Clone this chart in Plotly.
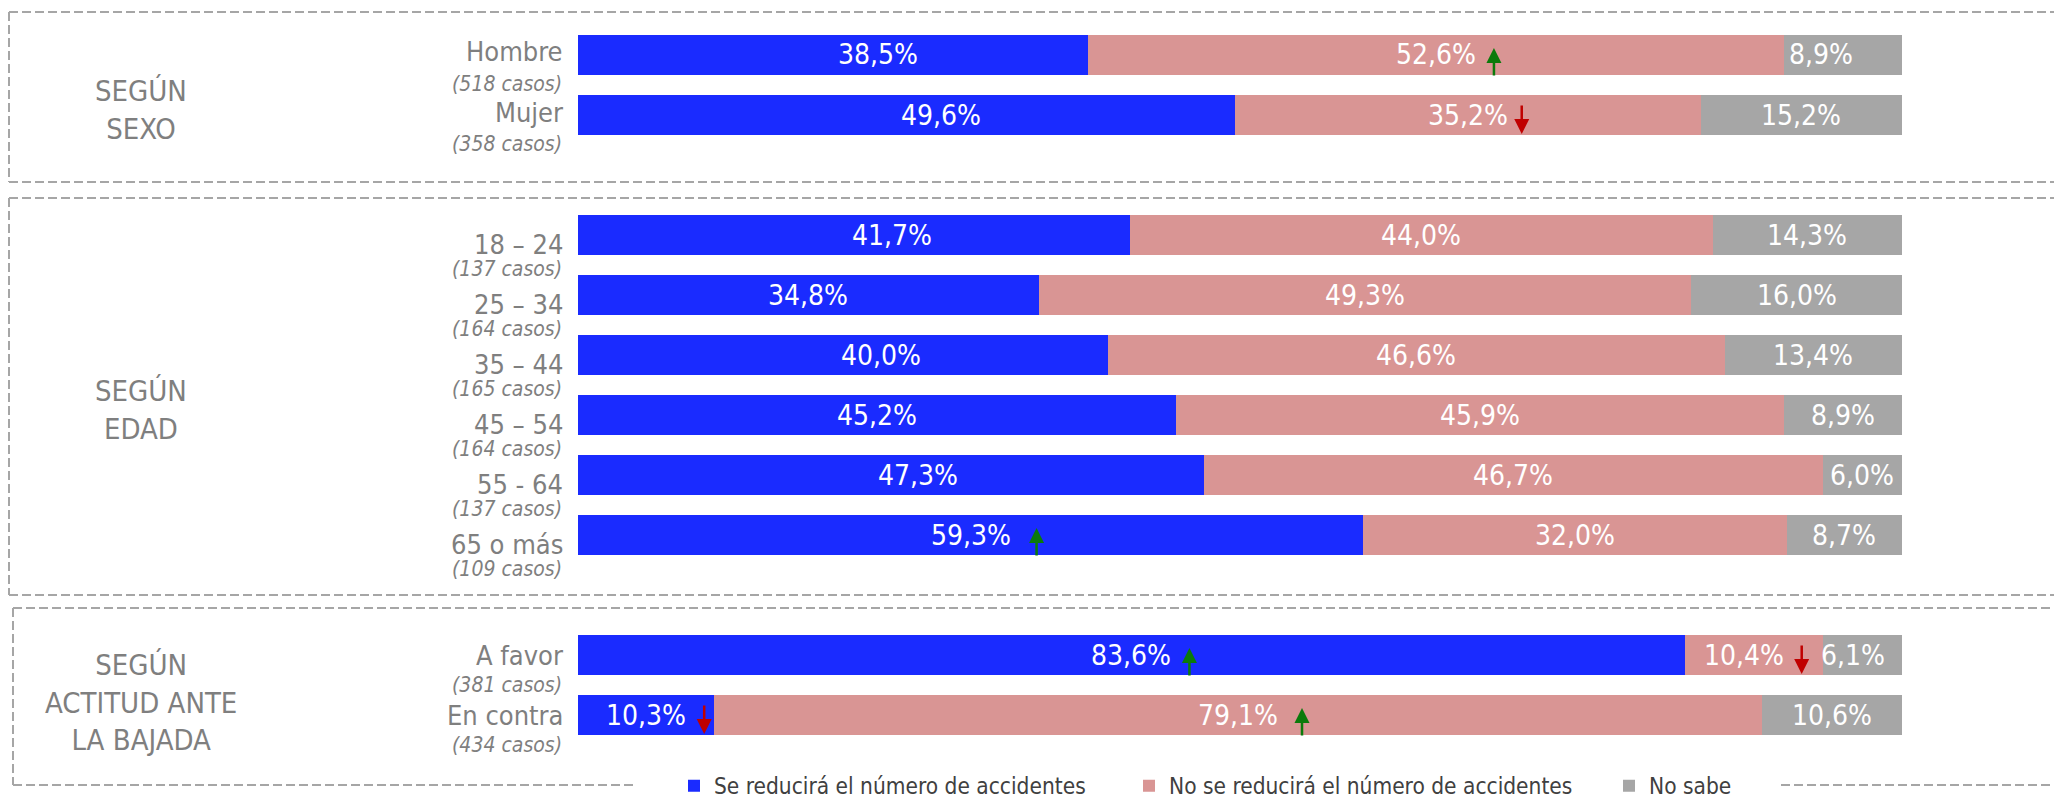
import plotly.graph_objects as go

# ---------------- data ----------------
categories = ["Hombre", "Mujer", "18 – 24", "25 – 34", "35 – 44", "45 – 54",
              "55 - 64", "65 o más", "A favor", "En contra"]
casos = [518, 358, 137, 164, 165, 164, 137, 109, 381, 434]
group_index = [0, 0, 1, 1, 1, 1, 1, 1, 2, 2]
group_titles = ["SEGÚN<br>SEXO", "SEGÚN<br>EDAD", "SEGÚN<br>ACTITUD ANTE<br>LA BAJADA"]

reducira = [38.5, 49.6, 41.7, 34.8, 40.0, 45.2, 47.3, 59.3, 83.6, 10.3]
no_reducira = [52.6, 35.2, 44.0, 49.3, 46.6, 45.9, 46.7, 32.0, 10.4, 79.1]
no_sabe = [8.9, 15.2, 14.3, 16.0, 13.4, 8.9, 6.0, 8.7, 6.1, 10.6]

series_names = ["Se reducirá el número de accidentes",
                "No se reducirá el número de accidentes",
                "No sabe"]
series_values = [reducira, no_reducira, no_sabe]

# significance arrows: (category, series index, direction)
arrow_marks = [("Hombre", 1, "up"), ("Mujer", 1, "down"), ("65 o más", 0, "up"),
               ("A favor", 0, "up"), ("A favor", 1, "down"),
               ("En contra", 0, "down"), ("En contra", 1, "up")]

# ---------------- style ----------------
FONT = "Liberation Sans Narrow, Arial Narrow, DejaVu Sans Condensed, sans-serif"
colors = ["#1A2BFF", "#D99594", "#A6A6A6"]
label_grey = "#7F7F7F"
dash_grey = "#A6A6A6"

# page is 2062x800; the html body has an 8px margin
PAGE_W, PAGE_H, OFF = 2062, 800, 8
W, H = PAGE_W - 2 * OFF, PAGE_H
PL, PR, PT, PB = 578, 1902, 25, 745   # plot area, page pixels

# manual nudges of a few value labels (pixels), as in the original layout
label_nudge = {("Hombre", 0): 45, ("Mujer", 0): 35, ("18 – 24", 0): 38,
               ("35 – 44", 0): 38, ("55 - 64", 0): 27,
               ("Hombre", 2): -22, ("A favor", 2): -10, ("A favor", 1): -10}
arrow_shift = {("Mujer", 1): -4, ("65 o más", 0): 8, ("En contra", 1): 6}

# slot positions (one empty slot between groups)
slots = []
s, prev = 0, group_index[0]
for g in group_index:
    if g != prev:
        s += 1
        prev = g
    slots.append(s)
    s += 1
nslots = slots[-1] + 1


def slot_px(sl):
    return PT + (sl + 0.5) * (PB - PT) / nslots


def px_x(px):
    return (px - OFF) / W


def px_y(py):
    return 1 - (py - OFF) / H


def fmt(v):
    return f"{v:.1f}".replace(".", ",") + "%"


fig = go.Figure()
legend_ids = ["legend", "legend2", "legend3"]
for name, vals, col, lg in zip(series_names, series_values, colors, legend_ids):
    fig.add_trace(go.Bar(
        y=slots, x=vals, orientation="h", name=name, width=0.667,
        marker=dict(color=col, line=dict(width=0)),
        hoverinfo="skip", legend=lg,
    ))

annotations = []
# value labels at segment centres
for si, vals in enumerate(series_values):
    for i, (cat, v) in enumerate(zip(categories, vals)):
        start = sum(series_values[k][i] for k in range(si))
        annotations.append(dict(
            xref="x", yref="y", x=start + v / 2, y=slots[i],
            xshift=label_nudge.get((cat, si), 0), showarrow=False,
            text=fmt(v), xanchor="center", yanchor="middle",
            font=dict(family=FONT, size=28, color="white")))

# category labels
main_off = [-3, 9, 0]
sub_off = [29, 34, 30]
for cat, n, sl, g in zip(categories, casos, slots, group_index):
    annotations.append(dict(
        xref="paper", yref="y", x=px_x(PL), y=sl, xshift=-13, yshift=-main_off[g],
        xanchor="right", yanchor="middle", showarrow=False, text=cat,
        font=dict(family=FONT, size=27, color=label_grey)))
    annotations.append(dict(
        xref="paper", yref="y", x=px_x(PL), y=sl, xshift=-14, yshift=-sub_off[g],
        xanchor="right", yanchor="middle", showarrow=False,
        text=f"<i>({n} casos)</i>",
        font=dict(family=FONT, size=21, color=label_grey)))

# group titles and dashed boxes
title_off = [25, 25, 17]
box_left = [9, 9, 13]
box_pad_top = [43, 37, 47]
box_pad_bottom = [67, 60, 70]
shapes = []
dash_line = dict(color=dash_grey, width=2, dash="9px,4px")
legend_gap = (635, 1781)
for g, title in enumerate(group_titles):
    gs = [sl for sl, gi in zip(slots, group_index) if gi == g]
    mid = (gs[0] + gs[-1]) / 2
    annotations.append(dict(
        xref="paper", yref="y", x=px_x(141), y=mid, yshift=-title_off[g],
        xanchor="center", yanchor="middle", showarrow=False, text=title,
        font=dict(family=FONT, size=29, color=label_grey)))
    top = px_y(slot_px(gs[0]) - box_pad_top[g])
    bot = px_y(slot_px(gs[-1]) + box_pad_bottom[g])
    x0, x1 = px_x(box_left[g]), px_x(PAGE_W + 10)
    shapes.append(dict(type="line", xref="paper", yref="paper", x0=x0, x1=x1,
                       y0=top, y1=top, line=dash_line))
    shapes.append(dict(type="line", xref="paper", yref="paper", x0=x0, x1=x0,
                       y0=top, y1=bot, line=dash_line))
    if g == len(group_titles) - 1:
        shapes.append(dict(type="line", xref="paper", yref="paper", x0=x0,
                           x1=px_x(legend_gap[0]), y0=bot, y1=bot, line=dash_line))
        shapes.append(dict(type="line", xref="paper", yref="paper",
                           x0=px_x(legend_gap[1]), x1=x1, y0=bot, y1=bot, line=dash_line))
    else:
        shapes.append(dict(type="line", xref="paper", yref="paper", x0=x0, x1=x1,
                           y0=bot, y1=bot, line=dash_line))

# significance arrows
for cat, si, direction in arrow_marks:
    i = categories.index(cat)
    start = sum(series_values[k][i] for k in range(si))
    xc = start + series_values[si][i] / 2
    up = direction == "up"
    annotations.append(dict(
        xref="x", yref="y", x=xc, y=slots[i],
        xshift=58 + label_nudge.get((cat, si), 0) + arrow_shift.get((cat, si), 0),
        yshift=7 if up else -19, ax=0, ay=29 if up else -30,
        text="", showarrow=True, arrowhead=2, arrowsize=1.2, arrowwidth=2.5,
        arrowcolor="#0B7A0B" if up else "#C00000", standoff=0, startstandoff=0))

legend_x = [674, 1129, 1609]
legend_style = dict(orientation="h", xanchor="left", yanchor="middle",
                    y=px_y(786), bgcolor="rgba(0,0,0,0)", itemwidth=30,
                    font=dict(family=FONT, size=22.5, color="#404040"))

fig.update_layout(
    width=W, height=H,
    margin=dict(l=0, r=0, t=0, b=0, pad=0),
    paper_bgcolor="white", plot_bgcolor="white",
    barmode="stack", bargap=0,
    showlegend=True,
    legend=dict(x=px_x(legend_x[0]), **legend_style),
    legend2=dict(x=px_x(legend_x[1]), **legend_style),
    legend3=dict(x=px_x(legend_x[2]), **legend_style),
    xaxis=dict(range=[0, 100], visible=False, fixedrange=True,
               domain=[px_x(PL), px_x(PR)]),
    yaxis=dict(range=[nslots - 0.5, -0.5], visible=False, fixedrange=True,
               domain=[px_y(PB), px_y(PT)]),
    annotations=annotations, shapes=shapes,
)

fig.write_html("out.html")
